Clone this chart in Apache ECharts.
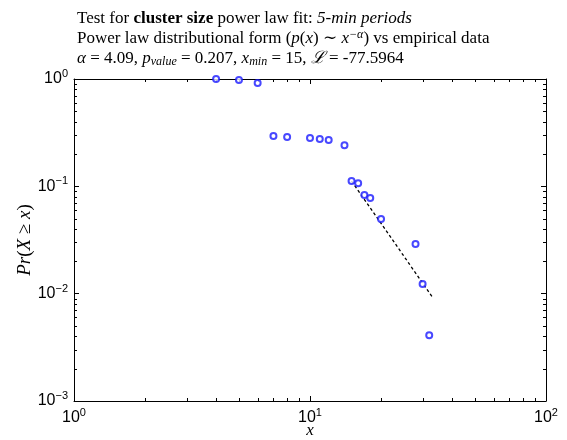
<!DOCTYPE html>
<html>
<head>
<meta charset="utf-8">
<script src="https://cdn.jsdelivr.net/npm/echarts@6/dist/echarts.min.js"></script>
<style>html,body{margin:0;padding:0;background:#fff}#c{width:567px;height:440px}</style>
</head>
<body>
<div id="c"></div>
<script>
// Empirical data (cluster size x, CCDF Pr(X >= x))
var dataX = [4, 5, 6, 7, 8, 10, 11, 12, 14, 15, 16, 17, 18, 20, 28, 30, 32];
var dataY = [1.0, 0.98, 0.918, 0.294, 0.288, 0.282, 0.276, 0.270, 0.242, 0.112, 0.107, 0.083, 0.078, 0.0496, 0.029, 0.0123, 0.0041];
// Power law fit line (from xmin to end)
var fitX = [15, 33];
var fitY = [0.112, 0.0093];
// Axis ranges and ticks
var xRange = [1, 100];
var yRange = [0.001, 1];
var xMinorTicks = [2,3,4,5,6,7,8,9,20,30,40,50,60,70,80,90];
var yMinorTicks = [0.002,0.003,0.004,0.005,0.006,0.007,0.008,0.009,0.02,0.03,0.04,0.05,0.06,0.07,0.08,0.09,0.2,0.3,0.4,0.5,0.6,0.7,0.8,0.9];

var serif = '"Liberation Serif", "DejaVu Serif", serif';
var sans = '"Liberation Sans", Arial, sans-serif';

function pow10Label(v) {
  var e = Math.round(Math.log10(v));
  var s = e < 0 ? '\u2212' + (-e) : String(e);
  return '10{sup|' + s + '}';
}

var chart = echarts.init(document.getElementById('c'), null, {renderer: 'canvas'});

var labelRich = {
  sup: {fontSize: 11, fontFamily: sans, color: '#000', padding: [0, 0, 10, 0]}
};

function tickSeries(vals, isX) {
  return {
    type: 'custom',
    coordinateSystem: 'cartesian2d',
    silent: true,
    clip: false,
    data: vals.map(function (v) { return isX ? [v, yRange[0]] : [xRange[0], v]; }),
    renderItem: function (params, api) {
      var st = {stroke: '#000', lineWidth: 1};
      if (isX) {
        var b = api.coord([api.value(0), yRange[0]]);
        var t = api.coord([api.value(0), yRange[1]]);
        var x = Math.round(b[0]) + 0.5;
        return {type: 'group', children: [
          {type: 'line', shape: {x1: x, y1: b[1], x2: x, y2: b[1] - 3}, style: st},
          {type: 'line', shape: {x1: x, y1: t[1], x2: x, y2: t[1] + 3}, style: st}
        ]};
      } else {
        var l = api.coord([xRange[0], api.value(1)]);
        var r = api.coord([xRange[1], api.value(1)]);
        var y = Math.round(l[1]) + 0.5;
        return {type: 'group', children: [
          {type: 'line', shape: {x1: l[0], y1: y, x2: l[0] + 3, y2: y}, style: st},
          {type: 'line', shape: {x1: r[0], y1: y, x2: r[0] - 3, y2: y}, style: st}
        ]};
      }
    }
  };
}

var axisCommon = {
  axisLine: {show: true, lineStyle: {color: '#000', width: 1}},
  axisTick: {show: true, inside: true, length: 5, lineStyle: {color: '#000'}},
  splitLine: {show: false}
};

var option = {
  animation: false,
  backgroundColor: '#fff',
  title: {
    left: 72, top: 4,
    text: 'Test for {b|cluster size} power law fit: {i|5-min periods}\n' +
          'Power law distributional form ({i|p}({i|x}) \u223C {i|x}{sup|\u2212\u03B1}) vs empirical data\n' +
          '{i|\u03B1} = 4.09, {i|p}{sub|value} = 0.207, {i|x}{sub|min} = 15, {i|\u2112} = -77.5964',
    textStyle: {
      fontFamily: serif, fontSize: 17, fontWeight: 'normal', color: '#000', lineHeight: 20,
      rich: {
        b: {fontFamily: serif, fontSize: 17, fontWeight: 'bold', color: '#000'},
        i: {fontFamily: serif, fontSize: 17, fontStyle: 'italic', color: '#000'},
        sup: {fontFamily: serif, fontSize: 12, fontStyle: 'italic', color: '#000', padding: [0, 0, 8, 0]},
        sub: {fontFamily: serif, fontSize: 12, fontStyle: 'italic', color: '#000', padding: [6, 0, 0, 0]}
      }
    }
  },
  grid: {left: 74, right: 21, top: 79, bottom: 39, containLabel: false, outerBoundsMode: 'none'},
  xAxis: [
    Object.assign({}, axisCommon, {
      type: 'log', logBase: 10, min: xRange[0], max: xRange[1], position: 'bottom',
      name: 'x', nameLocation: 'middle', nameGap: 30, nameMoveOverlap: false,
      nameTextStyle: {fontFamily: serif, fontStyle: 'italic', fontSize: 17, color: '#000', verticalAlign: 'middle'},
      axisLabel: {show: true, margin: 6, color: '#000', fontFamily: sans, fontSize: 16,
        formatter: pow10Label, rich: labelRich}
    }),
    Object.assign({}, axisCommon, {
      type: 'log', logBase: 10, min: xRange[0], max: xRange[1], position: 'top',
      axisLabel: {show: false}
    })
  ],
  yAxis: [
    Object.assign({}, axisCommon, {
      type: 'log', logBase: 10, min: yRange[0], max: yRange[1], position: 'left',
      name: '{i|Pr}({i|X} \u2265 {i|x})', nameLocation: 'middle', nameGap: 49, nameRotate: 90,
      nameMoveOverlap: false,
      nameTextStyle: {fontFamily: serif, fontSize: 19, color: '#000', verticalAlign: 'middle',
        rich: {i: {fontFamily: serif, fontStyle: 'italic', fontSize: 19, color: '#000'}}},
      axisLabel: {show: true, margin: 6, color: '#000', fontFamily: sans, fontSize: 16,
        formatter: pow10Label, rich: labelRich}
    }),
    Object.assign({}, axisCommon, {
      type: 'log', logBase: 10, min: yRange[0], max: yRange[1], position: 'right',
      axisLabel: {show: false}
    })
  ],
  series: [
    {
      type: 'line',
      data: fitX.map(function (x, i) { return [x, fitY[i]]; }),
      symbol: 'none',
      lineStyle: {color: '#000', width: 1.3, type: [3, 2.5]},
      silent: true, z: 2
    },
    {
      type: 'scatter',
      data: dataX.map(function (x, i) { return [x, dataY[i]]; }),
      symbol: 'emptyCircle', symbolSize: 6,
      itemStyle: {color: '#1a1aff', borderColor: '#1a1aff', borderWidth: 0.9},
      clip: false, z: 3
    },
    tickSeries(xMinorTicks, true),
    tickSeries(yMinorTicks, false)
  ]
};
chart.setOption(option);
</script>
</body>
</html>
